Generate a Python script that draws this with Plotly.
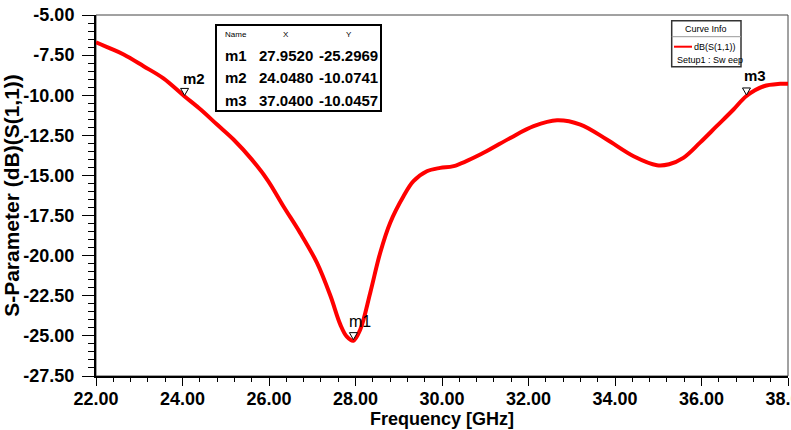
import plotly.graph_objects as go

# ---------------- data ----------------
freq_ghz = [22.0, 22.3, 22.64, 23.1, 23.56, 24.03, 24.42, 24.8, 25.18, 25.6, 25.97,
            26.34, 26.72, 27.11, 27.42, 27.65, 27.8, 27.95, 28.11, 28.34, 28.57,
            28.8, 29.11, 29.34, 29.65, 29.96, 30.27, 30.96, 31.58, 32.12, 32.66, 33.2,
            33.81, 34.43, 34.97, 35.25, 35.58, 35.96, 36.35, 36.74, 37.04, 37.44, 37.82, 38.0]
s11_db = [-6.7, -7.05, -7.46, -8.19, -8.95, -10.03, -10.89, -11.83, -12.76, -14.0, -15.3,
          -16.95, -18.58, -20.45, -22.5, -24.3, -25.05, -25.3, -24.6, -22.32, -19.83,
          -17.96, -16.3, -15.36, -14.74, -14.53, -14.42, -13.59, -12.66, -11.93, -11.56, -11.83,
          -12.76, -13.8, -14.36, -14.3, -13.9, -12.97, -11.93, -10.89, -10.05, -9.44, -9.29, -9.28]

marker_names = ["m1", "m2", "m3"]
marker_x = [27.9520, 24.0480, 37.0400]
marker_y = [-25.2969, -10.0741, -10.0457]
table_header = ["Name", "X", "Y"]

x_tick_vals = [22, 24, 26, 28, 30, 32, 34, 36, 38]
y_tick_vals = [-5.0, -7.5, -10.0, -12.5, -15.0, -17.5, -20.0, -22.5, -25.0, -27.5]

trace_name = "dB(S(1,1))"
setup_name = "Setup1 : Sw eep"

# ---------------- layout helpers ----------------
W, H = 791, 430
L, R, T, B = 96, 3, 15, 54
PW, PH = W - L - R, H - T - B
FONT = "Arial, Liberation Sans, sans-serif"


def px(x):
    return (x - L) / PW


def py(y):
    return (H - B - y) / PH


fig = go.Figure()
fig.add_trace(go.Scatter(
    x=freq_ghz, y=s11_db, mode="lines", name=trace_name,
    line=dict(color="#ff0000", width=4, shape="spline", smoothing=1.0),
    hoverinfo="skip", showlegend=False))

shapes = []
annotations = []

# plot frame top/right
shapes.append(dict(type="rect", xref="paper", yref="paper", x0=0, x1=1, y0=0, y1=1,
                   line=dict(color="#444444", width=1), layer="below"))

# marker triangles and labels
label_cfg = {"m1": (-6, 19, "normal"), "m2": (-4, 18, "bold"), "m3": (-4, 20, "bold")}
for n, mx, my in zip(marker_names, marker_x, marker_y):
    shapes.append(dict(type="path", xref="x", yref="y", xsizemode="pixel", ysizemode="pixel",
                       xanchor=mx, yanchor=my, path="M-4,8 L4,8 L0,1 Z",
                       line=dict(color="black", width=1), fillcolor="white"))
    xs, ys, wt = label_cfg[n]
    annotations.append(dict(x=mx, y=my, xref="x", yref="y", text=n, showarrow=False,
                            xanchor="left", yanchor="middle", xshift=xs, yshift=ys,
                            font=dict(family=FONT, size=16 if wt == "normal" else 15,
                                      color="black", weight=wt)))

# ---- marker table ----
tl, tr, tt, tb = 216, 381, 25, 111
cols = [216, 255.7, 316, 381]
rows = [25, 43.3, 65, 88.3, 111]
for cx in cols[1:-1]:
    shapes.append(dict(type="line", xref="paper", yref="paper", x0=px(cx), x1=px(cx),
                       y0=py(tt), y1=py(tb), line=dict(color="#555555", width=1)))
for ry in rows[1:-1]:
    shapes.append(dict(type="line", xref="paper", yref="paper", x0=px(tl), x1=px(tr),
                       y0=py(ry), y1=py(ry), line=dict(color="#555555", width=1)))
shapes.append(dict(type="rect", xref="paper", yref="paper", x0=px(tl), x1=px(tr),
                   y0=py(tb), y1=py(tt), line=dict(color="black", width=2), fillcolor="white",
                   layer="above"))
col_centers = [(cols[i] + cols[i + 1]) / 2 for i in range(3)]
for i, h in enumerate(table_header):
    annotations.append(dict(x=px(col_centers[i]), y=py((rows[0] + rows[1]) / 2), xref="paper",
                            yref="paper", text=h, showarrow=False, xanchor="center",
                            yanchor="middle", font=dict(family=FONT, size=8, color="black")))
for r, (n, mx, my) in enumerate(zip(marker_names, marker_x, marker_y)):
    cy = (rows[r + 1] + rows[r + 2]) / 2 + 1
    for i, txt in enumerate([n, f"{mx:.4f}", f"{my:.4f}"]):
        annotations.append(dict(x=px(col_centers[i]), y=py(cy), xref="paper", yref="paper",
                                text=txt, showarrow=False, xanchor="center", yanchor="middle",
                                font=dict(family=FONT, size=15, color="black", weight="bold")))

# ---- curve info box ----
ll, lr, lt, lb = 671.7, 741, 20.7, 66.7
shapes.append(dict(type="rect", xref="paper", yref="paper", x0=px(ll), x1=px(lr),
                   y0=py(lb), y1=py(lt), line=dict(color="#333333", width=1.5), fillcolor="white"))
shapes.append(dict(type="line", xref="paper", yref="paper", x0=px(ll), x1=px(lr),
                   y0=py(36.7), y1=py(36.7), line=dict(color="#999999", width=1)))
shapes.append(dict(type="line", xref="paper", yref="paper", x0=px(674), x1=px(692),
                   y0=py(46.7), y1=py(46.7), line=dict(color="#ff0000", width=2)))
annotations.append(dict(x=px(706), y=py(29), xref="paper", yref="paper", text="Curve Info",
                        showarrow=False, xanchor="center", yanchor="middle",
                        font=dict(family=FONT, size=9, color="black")))
annotations.append(dict(x=px(738), y=py(46.7), xref="paper", yref="paper", text=trace_name,
                        showarrow=False, xanchor="right", yanchor="middle",
                        font=dict(family=FONT, size=9, color="black")))
annotations.append(dict(x=px(674.5), y=py(60), xref="paper", yref="paper", text=setup_name,
                        showarrow=False, xanchor="left", yanchor="middle",
                        font=dict(family=FONT, size=9, color="black")))

tick_font = dict(family=FONT, size=18, color="black", weight="bold")
fig.update_layout(
    width=W, height=H, margin=dict(l=L, r=R, t=T, b=B, autoexpand=False),
    paper_bgcolor="white", plot_bgcolor="white",
    shapes=shapes, annotations=annotations, showlegend=False,
    xaxis=dict(range=[22, 38], tickvals=x_tick_vals,
               ticktext=[f"{v:.2f}" for v in x_tick_vals],
               showgrid=False, zeroline=False, showline=True, linecolor="black", linewidth=2,
               ticks="outside", ticklen=8, tickwidth=1, tickcolor="black",
               tickfont=tick_font, ticklabeloverflow="allow", ticklabelstandoff=-3,
               minor=dict(dtick=0.4, tick0=22, ticks="outside", ticklen=4, tickcolor="black",
                          showgrid=False),
               title=dict(text="Frequency [GHz]", standoff=0,
                          font=dict(family=FONT, size=18, color="black", weight="bold"))),
    yaxis=dict(range=[-27.5, -5], tickvals=y_tick_vals,
               ticktext=[f"{v:.2f}" for v in y_tick_vals],
               showgrid=False, zeroline=False, showline=True, linecolor="black", linewidth=2,
               ticks="outside", ticklen=12, tickwidth=1, tickcolor="black",
               tickfont=tick_font, ticklabelstandoff=4,
               minor=dict(dtick=0.5, tick0=-5, ticks="outside", ticklen=6, tickcolor="black",
                          showgrid=False),
               title=dict(text="S-Parameter (dB)(S(1,1))", standoff=0,
                          font=dict(family=FONT, size=21, color="black", weight="bold"))),
)

fig.write_html("out.html", config={"displayModeBar": False},
               post_script="document.body.style.margin='0';document.body.style.overflow='hidden';")
